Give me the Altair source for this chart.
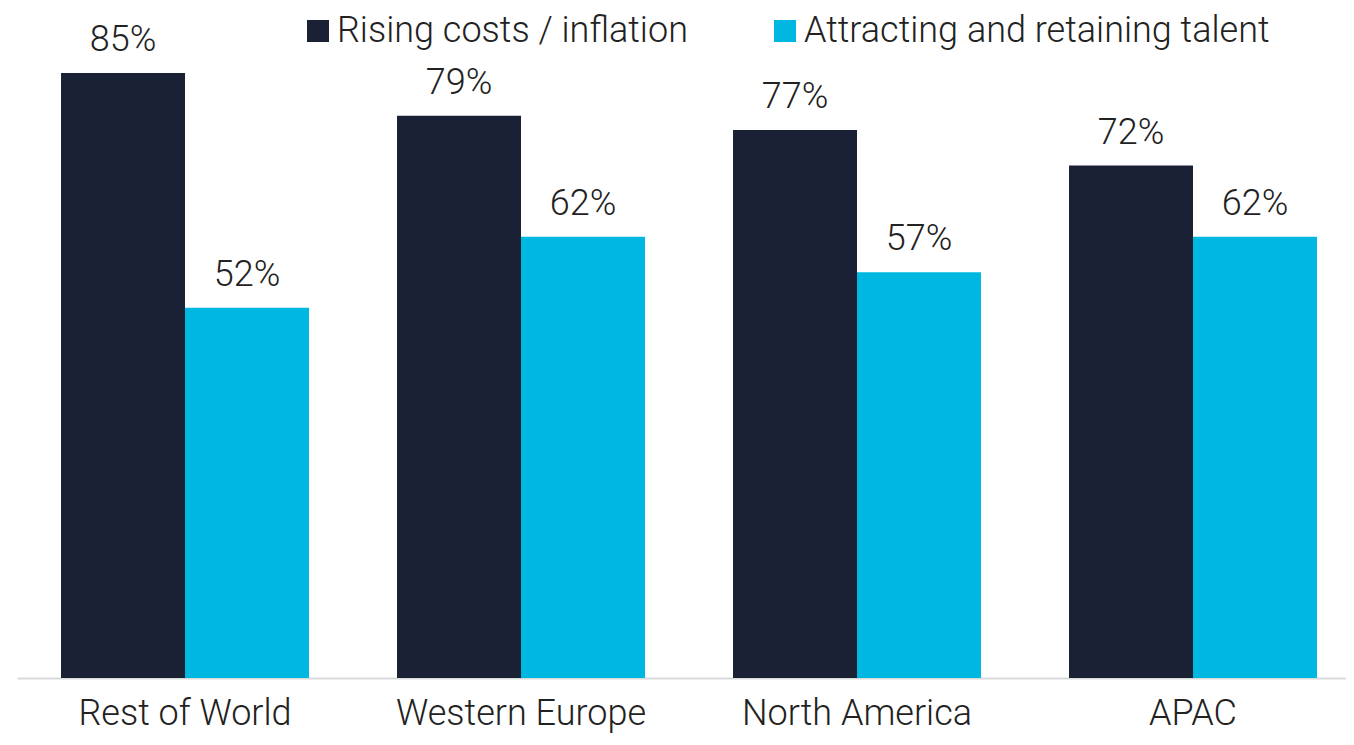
import altair as alt
import pandas as pd

regions = ["Rest of World", "Western Europe", "North America", "APAC"]
series = ["Rising costs / inflation", "Attracting and retaining talent"]
rising = [85, 79, 77, 72]
talent = [52, 62, 57, 62]
colors = ["#1b2135", "#00b7e1"]

rows = []
for r, a, b in zip(regions, rising, talent):
    rows.append({"region": r, "series": series[0], "value": a, "label": f"{a}%"})
    rows.append({"region": r, "series": series[1], "value": b, "label": f"{b}%"})
df = pd.DataFrame(rows)

FONT = "Roboto"
FS = 36

x = alt.X("region:N", sort=regions, title=None,
          scale=alt.Scale(paddingInner=0.262, paddingOuter=0.131, range=[0, 1344]),
          axis=alt.Axis(labelAngle=0, labelFontSize=FS, labelFont=FONT, labelFontWeight=300,
                        labelColor="#222222", labelPadding=18, ticks=False, labelLimit=600,
                        domainColor="#d9d9d9", domainWidth=2))
xo = alt.XOffset("series:N", sort=series)
y = alt.Y("value:Q", title=None, axis=None, scale=alt.Scale(domain=[0, 94.13], nice=False))

bars = alt.Chart(df).mark_bar().encode(
    x=x, xOffset=xo, y=y,
    color=alt.Color("series:N", sort=series,
                    scale=alt.Scale(domain=series, range=colors),
                    legend=alt.Legend(title=None, orient="none", legendX=283, legendY=5,
                                      direction="horizontal", symbolType="square",
                                      symbolSize=484, symbolStrokeWidth=0,
                                      labelFontSize=FS, labelFont=FONT, labelFontWeight=300,
                                      labelColor="#222222", labelOffset=1,
                                      columnPadding=79, labelLimit=700)),
)

text = alt.Chart(df).mark_text(baseline="alphabetic", dy=-22, fontSize=FS, font=FONT,
                               fontWeight=300, color="#222222").encode(
    x=x, xOffset=xo, y=y, text="label:N"
)

chart = alt.layer(bars, text).properties(
    width=1329, height=670,
    autosize=alt.AutoSizeParams(type="none"),
    padding={"left": 9, "top": 0, "right": 0, "bottom": 59},
).configure_view(stroke=None).configure_axis(grid=False)

chart.save("out.html", embed_options={"renderer": "svg", "actions": False})
